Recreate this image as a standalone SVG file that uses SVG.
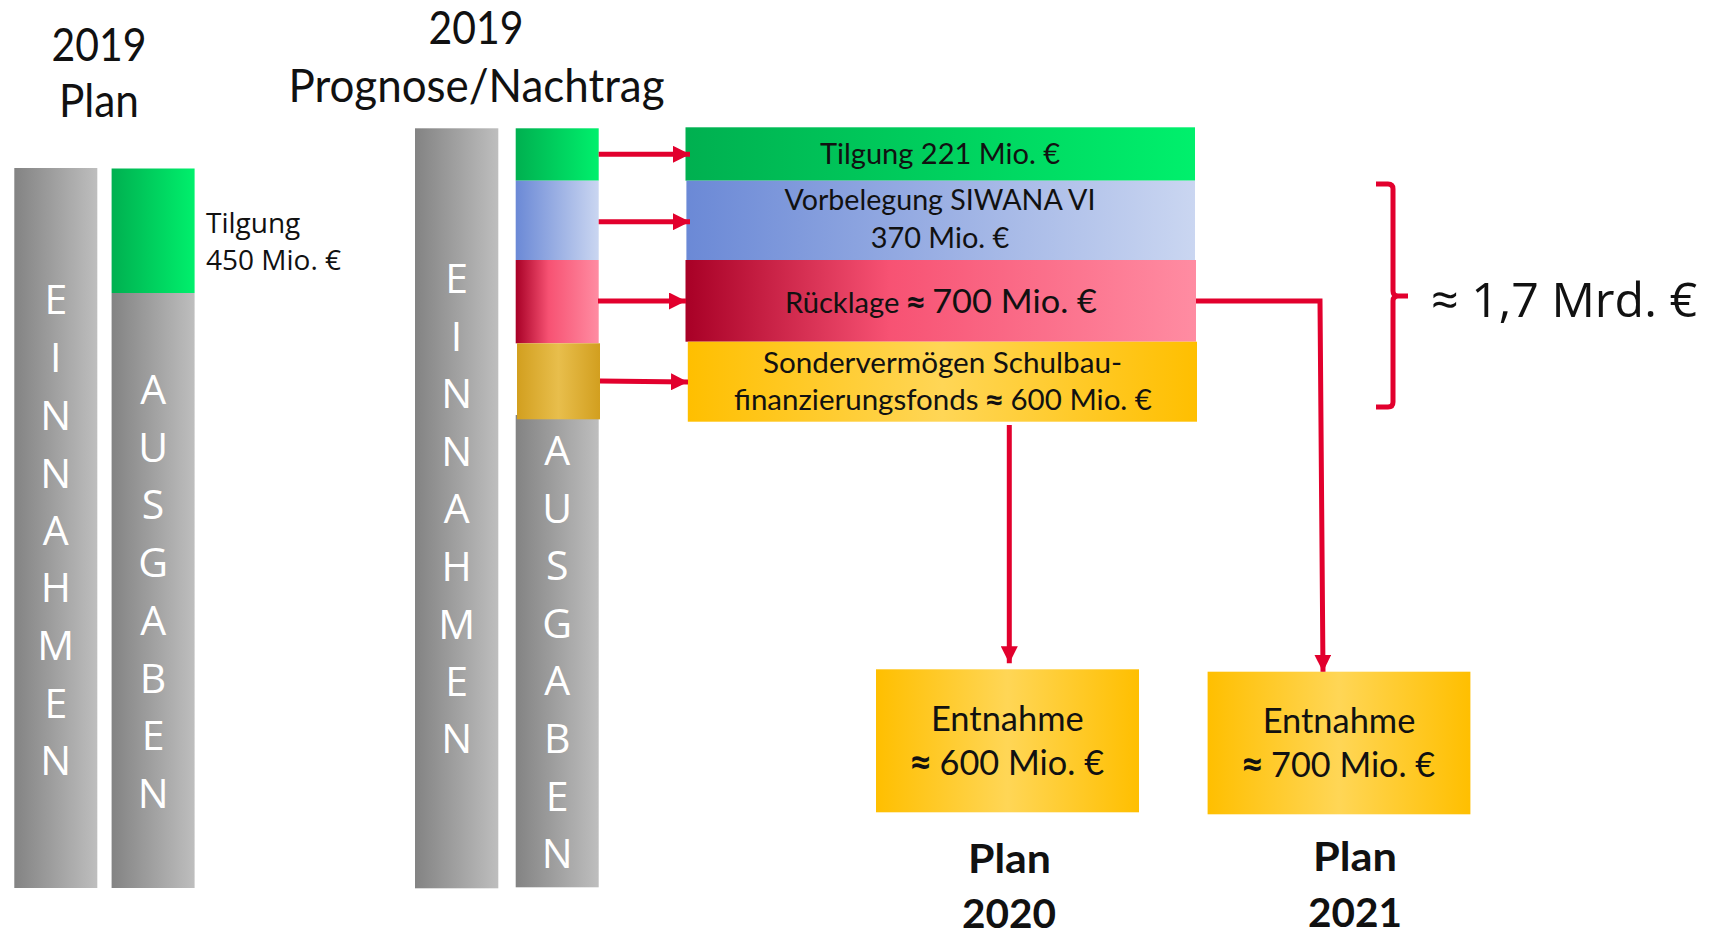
<svg xmlns="http://www.w3.org/2000/svg" width="1712" height="935" viewBox="0 0 1712 935">
<style>
.t{font-family:Lato,"Open Sans","Liberation Sans",sans-serif;fill:#111;text-anchor:middle}
.o{font-family:"Open Sans","Noto Sans","Liberation Sans",sans-serif;fill:#111}
.v{font-family:"Open Sans","Noto Sans","Liberation Sans",sans-serif;fill:#fff;font-size:41px;text-anchor:middle}
.b{font-weight:bold}
.ap{font-family:"Open Sans","Noto Sans",sans-serif;font-weight:bold}
.c{fill:none;stroke:#e2002d;stroke-width:5}
</style>
<defs>
<linearGradient id="gGray" x1="0" x2="1" y1="0" y2="0"><stop offset="0" stop-color="#838383"/><stop offset="1" stop-color="#bebebe"/></linearGradient>
<linearGradient id="gGreen" x1="0" x2="1" y1="0" y2="0"><stop offset="0" stop-color="#00b050"/><stop offset="1" stop-color="#00f06c"/></linearGradient>
<linearGradient id="gBlue" x1="0" x2="1" y1="0" y2="0"><stop offset="0" stop-color="#6b89d6"/><stop offset="1" stop-color="#cad6f1"/></linearGradient>
<linearGradient id="gRed" x1="0" x2="1" y1="0" y2="0"><stop offset="0" stop-color="#a80026"/><stop offset="0.4" stop-color="#f75273"/><stop offset="1" stop-color="#ff8ca2"/></linearGradient>
<linearGradient id="gGoldBar" x1="0" x2="1" y1="0" y2="0"><stop offset="0" stop-color="#d29f1f"/><stop offset="0.5" stop-color="#e8be4c"/><stop offset="1" stop-color="#d29f1f"/></linearGradient>
<linearGradient id="gGold" x1="0" x2="1" y1="0" y2="0"><stop offset="0" stop-color="#ffbf00"/><stop offset="0.5" stop-color="#ffd656"/><stop offset="1" stop-color="#ffbf00"/></linearGradient>
<marker id="ah" markerUnits="userSpaceOnUse" markerWidth="17" markerHeight="17" refX="16" refY="8" orient="auto" viewBox="0 0 16 16"><path d="M0,0 L16,8 L0,16 z" fill="#e2002d"/></marker>
</defs>

<g id="titles">
<text class="t" x="99" y="61" font-size="46" textLength="95" lengthAdjust="spacingAndGlyphs">2019</text>
<text class="t" x="99" y="117" font-size="46" textLength="80" lengthAdjust="spacingAndGlyphs">Plan</text>
<text class="t" x="476" y="44" font-size="46" textLength="95" lengthAdjust="spacingAndGlyphs">2019</text>
<text class="t" x="476.5" y="101.5" font-size="46" textLength="376" lengthAdjust="spacingAndGlyphs">Prognose/Nachtrag</text>
</g>

<g id="plan-einnahmen">
<rect x="14.3" y="168" width="83" height="720" fill="url(#gGray)"/>
<text class="v" x="55.8" y="314">E</text>
<text class="v" x="55.8" y="372">I</text>
<text class="v" x="55.8" y="430">N</text>
<text class="v" x="55.8" y="488">N</text>
<text class="v" x="55.8" y="545">A</text>
<text class="v" x="55.8" y="602">H</text>
<text class="v" x="55.8" y="660">M</text>
<text class="v" x="55.8" y="718">E</text>
<text class="v" x="55.8" y="775">N</text>
</g>

<g id="plan-ausgaben">
<rect x="111.6" y="293" width="83" height="595" fill="url(#gGray)"/>
<rect x="111.6" y="168.5" width="83" height="124.5" fill="url(#gGreen)"/>
<text class="v" x="153.1" y="404">A</text>
<text class="v" x="153.1" y="462">U</text>
<text class="v" x="153.1" y="519">S</text>
<text class="v" x="153.1" y="577">G</text>
<text class="v" x="153.1" y="635">A</text>
<text class="v" x="153.1" y="693">B</text>
<text class="v" x="153.1" y="750">E</text>
<text class="v" x="153.1" y="808">N</text>
</g>

<g id="plan-tilgung-label">
<text class="o" x="206" y="233" font-size="28">Tilgung</text>
<text class="o" x="206" y="270" font-size="28">450 Mio. €</text>
</g>

<g id="prog-einnahmen">
<rect x="415" y="128.3" width="83.3" height="760" fill="url(#gGray)"/>
<text class="v" x="456.6" y="293">E</text>
<text class="v" x="456.6" y="351">I</text>
<text class="v" x="456.6" y="408">N</text>
<text class="v" x="456.6" y="466">N</text>
<text class="v" x="456.6" y="523">A</text>
<text class="v" x="456.6" y="581">H</text>
<text class="v" x="456.6" y="639">M</text>
<text class="v" x="456.6" y="696">E</text>
<text class="v" x="456.6" y="753">N</text>
</g>

<g id="prog-ausgaben">
<rect x="515.7" y="415" width="83" height="472.3" fill="url(#gGray)"/>
<rect x="515.7" y="128.3" width="83" height="52.4" fill="url(#gGreen)"/>
<rect x="515.7" y="180.7" width="83" height="79.3" fill="url(#gBlue)"/>
<rect x="515.7" y="260" width="83" height="83.3" fill="url(#gRed)"/>
<rect x="517" y="343.3" width="83" height="76" fill="url(#gGoldBar)"/>
<text class="v" x="557.2" y="465">A</text>
<text class="v" x="557.2" y="523">U</text>
<text class="v" x="557.2" y="580">S</text>
<text class="v" x="557.2" y="638">G</text>
<text class="v" x="557.2" y="695">A</text>
<text class="v" x="557.2" y="753">B</text>
<text class="v" x="557.2" y="811">E</text>
<text class="v" x="557.2" y="868">N</text>
</g>

<g id="box-tilgung">
<rect x="685.5" y="127.3" width="509.5" height="53.4" fill="url(#gGreen)"/>
<text class="t" x="940" y="163.5" font-size="28" textLength="240" lengthAdjust="spacingAndGlyphs">Tilgung 221 Mio. €</text>
</g>

<g id="box-siwana">
<rect x="686.4" y="180.7" width="508.6" height="79.3" fill="url(#gBlue)"/>
<text class="t" x="940" y="210" font-size="28" textLength="311" lengthAdjust="spacingAndGlyphs">Vorbelegung SIWANA VI</text>
<text class="t" x="940" y="248.3" font-size="28" textLength="138.6" lengthAdjust="spacingAndGlyphs">370 Mio. €</text>
</g>

<g id="box-ruecklage">
<rect x="685.5" y="260" width="510.5" height="81.7" fill="url(#gRed)"/>
<text class="t" x="941" y="312.7" font-size="28" textLength="312" lengthAdjust="spacingAndGlyphs">Rücklage <tspan class="ap" font-size="30">≈</tspan> <tspan font-size="33">700 Mio. €</tspan></text>
</g>

<g id="box-sonderverm">
<rect x="687.8" y="341.7" width="509.2" height="80" fill="url(#gGold)"/>
<text class="t" x="942.5" y="373.3" font-size="28" textLength="359" lengthAdjust="spacingAndGlyphs">Sondervermögen Schulbau-</text>
<text class="t" x="943" y="410" font-size="28" textLength="418" lengthAdjust="spacingAndGlyphs">finanzierungsfonds <tspan class="ap">≈</tspan> 600 Mio. €</text>
</g>

<g id="sum-brace">
<path class="c" d="M1376,184 L1388,184 Q1393,184 1393,189 L1393,291 Q1393,296 1398,296 L1408,296 M1398,296 Q1393,296 1393,301 L1393,402 Q1393,407 1388,407 L1376,407"/>
<text class="o" x="1431" y="317" font-size="48" textLength="266" lengthAdjust="spacingAndGlyphs">≈ 1,7 Mrd. €</text>
</g>

<g id="box-entnahme-2020">
<rect x="876" y="669.3" width="263" height="143" fill="url(#gGold)"/>
<text class="t" x="1007.3" y="730.7" font-size="35" textLength="152.7" lengthAdjust="spacingAndGlyphs">Entnahme</text>
<text class="t" x="1007.6" y="775" font-size="35" textLength="193" lengthAdjust="spacingAndGlyphs"><tspan class="ap">≈</tspan> 600 Mio. €</text>
</g>

<g id="box-entnahme-2021">
<rect x="1207.6" y="671.7" width="262.8" height="142.6" fill="url(#gGold)"/>
<text class="t" x="1339" y="732.7" font-size="35" textLength="152.7" lengthAdjust="spacingAndGlyphs">Entnahme</text>
<text class="t" x="1339" y="777.3" font-size="35" textLength="192.4" lengthAdjust="spacingAndGlyphs"><tspan class="ap">≈</tspan> 700 Mio. €</text>
</g>

<g id="label-plan-2020">
<text class="t b" x="1009.5" y="873.3" font-size="41" textLength="83" lengthAdjust="spacingAndGlyphs">Plan</text>
<text class="t b" x="1009" y="928" font-size="41" textLength="94" lengthAdjust="spacingAndGlyphs">2020</text>
</g>

<g id="label-plan-2021">
<text class="t b" x="1355" y="870.7" font-size="41" textLength="84" lengthAdjust="spacingAndGlyphs">Plan</text>
<text class="t b" x="1355" y="926.7" font-size="41" textLength="94" lengthAdjust="spacingAndGlyphs">2021</text>
</g>

<g id="connectors">
<line class="c" x1="598.7" y1="154.3" x2="690" y2="154.3" marker-end="url(#ah)"/>
<line class="c" x1="598.7" y1="221.7" x2="690" y2="221.7" marker-end="url(#ah)"/>
<line class="c" x1="598" y1="301" x2="686" y2="301" marker-end="url(#ah)"/>
<line class="c" x1="600" y1="381" x2="688" y2="382" marker-end="url(#ah)"/>
<line class="c" x1="1009.3" y1="425" x2="1009.3" y2="663.3" marker-end="url(#ah)"/>
<polyline class="c" points="1196,301 1320,301 1323,671.7" marker-end="url(#ah)"/>
</g>
</svg>
